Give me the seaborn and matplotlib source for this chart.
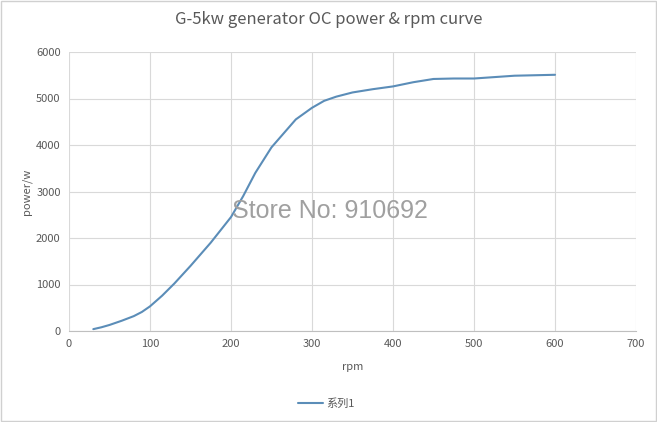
import numpy as np
import pandas as pd
import matplotlib
matplotlib.use("Agg")
import matplotlib.pyplot as plt
import seaborn as sns

# datos
rpm = [30, 40, 50, 65, 80, 90, 100, 115, 130, 150, 175, 200, 215, 230, 250, 265, 280, 300,
       315, 330, 350, 375, 400, 425, 450, 475, 500, 525, 550, 575, 600]
power = [40, 80, 130, 220, 320, 410, 530, 760, 1020, 1400, 1900, 2450, 2900, 3400, 3950,
         4250, 4550, 4800, 4950, 5040, 5130, 5200, 5260, 5350, 5420, 5430, 5430, 5460, 5490, 5500, 5510]
serie = "系列1"

df = pd.DataFrame({"rpm": rpm, "power": power, "serie": serie})

sns.set_style("white")
plt.rcParams['font.family'] = ['Noto Sans CJK SC', 'DejaVu Sans']

fig = plt.figure(figsize=(6.57, 4.22), dpi=100)
ax = fig.add_axes([69/657, 1-331/422, (636-69)/657, (331-52)/422])

sns.lineplot(data=df, x="rpm", y="power", hue="serie", palette=["#5B8DB8"],
             linewidth=1.5, sort=False, ax=ax, legend=False)

ax.set_xlim(0, 700)
ax.set_ylim(0, 6000)
ax.set_xticks(range(0, 701, 100))
ax.set_yticks(range(0, 6001, 1000))
ax.grid(True, color="#d9d9d9", linewidth=0.8)
for s in ["top", "right", "left"]:
    ax.spines[s].set_visible(False)
ax.spines["bottom"].set_color("#bfbfbf")
ax.tick_params(axis="both", length=0, labelsize=8, colors="#595959", pad=6)

ax.set_xlabel("rpm", fontsize=8, color="#595959", labelpad=9)
ax.set_ylabel("power/w", fontsize=8, color="#595959", labelpad=3)

fig.text(0.5, 1-20/422, "G-5kw generator OC power & rpm curve", ha="center", va="center",
         fontsize=12, color="#595959")

# leyenda abajo
ax.plot([], [], color="#5B8DB8", linewidth=1.5, label=serie)
fig.legend(loc="center", bbox_to_anchor=(0.497, 1-404/422), frameon=False, fontsize=8,
           handlelength=2.2, handletextpad=0.3, labelcolor="#595959")

# marca de agua
fig.text(330/657, 1-211/422, "Store No: 910692", ha="center", va="center",
         fontsize=18, color="#a0a0a0", family="Liberation Sans")

fig.patches.append(plt.Rectangle((0.002, 0.003), 0.996, 0.994, transform=fig.transFigure,
                                 fill=False, edgecolor="#d0d0d0", linewidth=1))

fig.savefig("out.png", dpi=100)
